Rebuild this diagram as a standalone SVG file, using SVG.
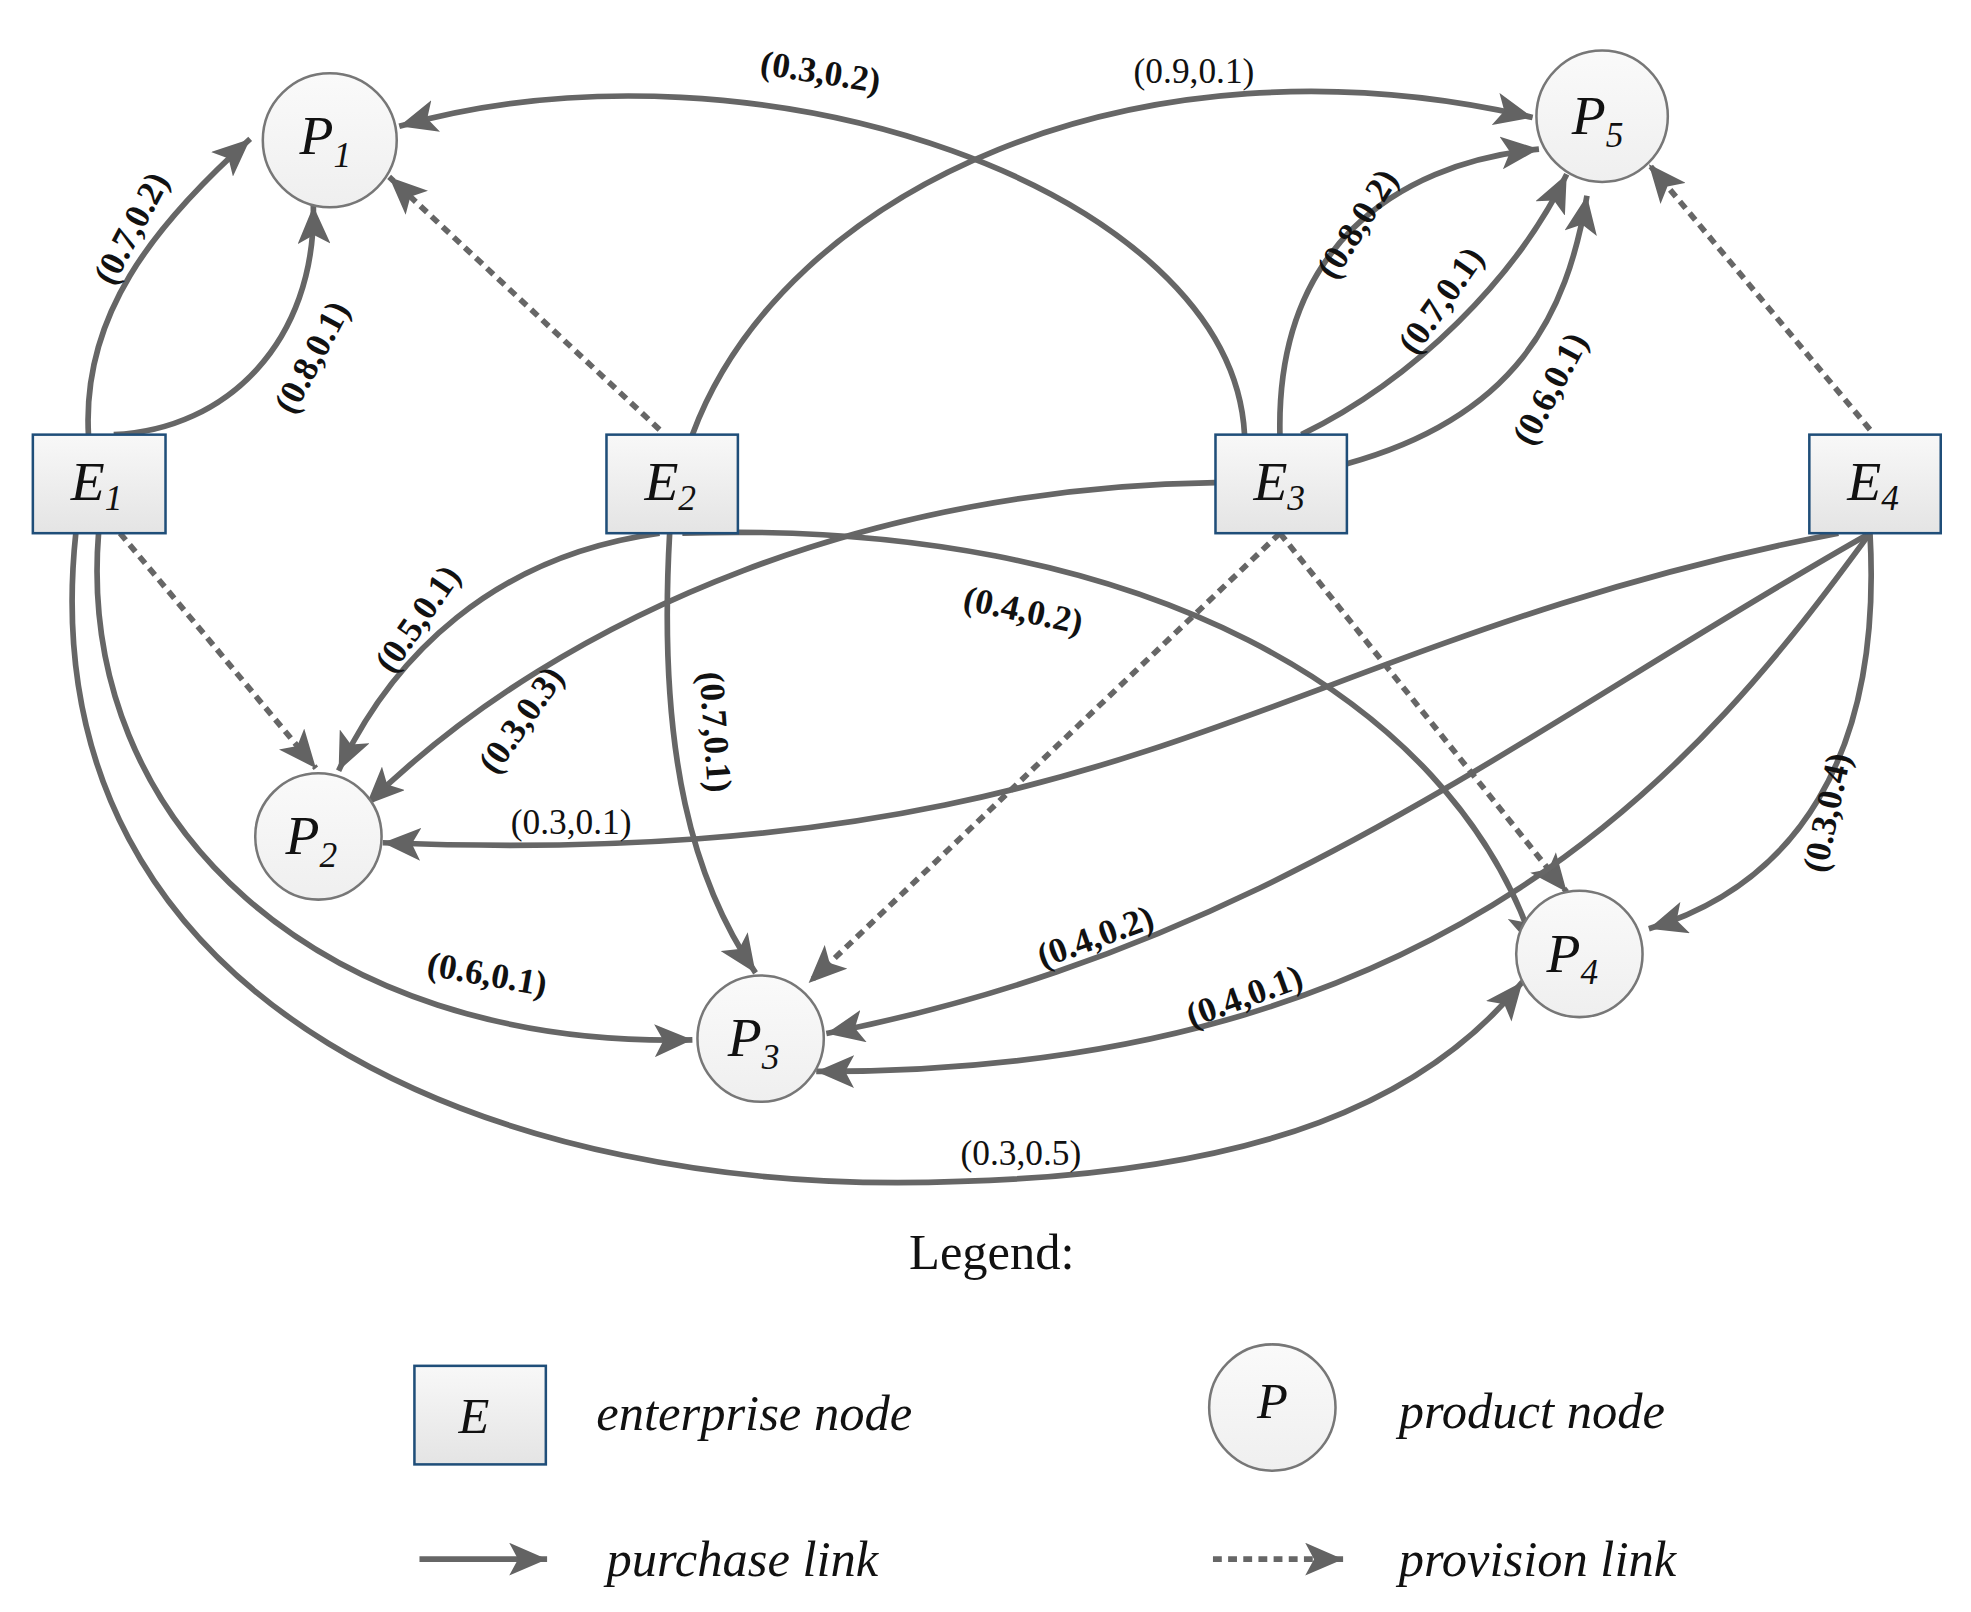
<svg xmlns="http://www.w3.org/2000/svg" width="1971" height="1612" viewBox="0 0 1971 1612">
<defs>
<linearGradient id="gr" x1="0" y1="0" x2="0" y2="1"><stop offset="0" stop-color="#f8f8f8"/><stop offset="1" stop-color="#e4e4e4"/></linearGradient>
<linearGradient id="gc" x1="0" y1="0" x2="0" y2="1"><stop offset="0" stop-color="#fafafa"/><stop offset="1" stop-color="#efefef"/></linearGradient>
<marker id="a" markerUnits="userSpaceOnUse" markerWidth="34" markerHeight="26" refX="30" refY="13" orient="auto"><path d="M0,0 L30,13 L0,26 L7,13 Z" fill="#636363"/></marker>
</defs>
<style>
.e{fill:url(#gr);stroke:#1f4e79;stroke-width:2}
.p{fill:url(#gc);stroke:#777;stroke-width:2}
.s{fill:none;stroke:#666;stroke-width:4.5;marker-end:url(#a)}
.d{fill:none;stroke:#666;stroke-width:4.5;stroke-dasharray:7,5;marker-end:url(#a)}
.n{font-family:"Liberation Serif",serif;font-style:italic;font-size:44px;fill:#111}
.sub{font-size:28px}
.l{font-family:"Liberation Serif",serif;font-size:28px;fill:#111}
.b{font-weight:bold}
.t{font-family:"Liberation Serif",serif;font-size:40px;fill:#111}
.i{font-style:italic}
</style>
<rect width="1971" height="1612" fill="#fff"/>
<g transform="scale(1.2635)">
<g id="connectors">
<path class="s" d="M70,344 C65,250 120,180 198,110"/>
<path class="s" d="M90,344 C180,340 250,270 248,163"/>
<path class="s" d="M985,344 C975,150 600,20 316,100"/>
<path class="d" d="M522,340 L308,140"/>
<path class="s" d="M548,344 C620,150 900,20 1213,93"/>
<path class="s" d="M1013,344 C1010,200 1100,130 1218,118"/>
<path class="s" d="M1030,344 C1120,300 1200,220 1240,138"/>
<path class="s" d="M1066,367 C1200,330 1240,250 1256,155"/>
<path class="d" d="M1480,340 L1305,130"/>
<path class="d" d="M95,422 L250,608"/>
<path class="s" d="M522,422 C390,440 310,520 268,610"/>
<path class="s" d="M962,382 C700,385 450,480 290,637"/>
<path class="s" d="M1455,422 C1000,510 900,690 303,667"/>
<path class="s" d="M530,422 C520,600 550,700 598,770"/>
<path class="s" d="M540,422 C900,410 1150,550 1215,752"/>
<path class="d" d="M1013,422 L640,778"/>
<path class="d" d="M1013,422 L1240,706"/>
<path class="s" d="M78,422 C60,650 250,830 548,823"/>
<path class="s" d="M60,422 C20,800 400,950 760,935 C1000,928 1130,870 1205,777"/>
<path class="s" d="M1480,422 C1200,580 1000,750 654,818"/>
<path class="s" d="M1480,422 C1350,600 1150,850 646,848"/>
<path class="s" d="M1480,422 C1490,600 1420,700 1305,735"/>
</g>
<g id="labels">
<text class="l b" transform="translate(112,185) rotate(-62)" text-anchor="middle">(0.7,0.2)</text>
<text class="l b" transform="translate(255,287) rotate(-62)" text-anchor="middle">(0.8,0.1)</text>
<text class="l b" transform="translate(648,66) rotate(9)" text-anchor="middle">(0.3,0.2)</text>
<text class="l" x="945" y="66" text-anchor="middle">(0.9,0.1)</text>
<text class="l b" transform="translate(1082,182) rotate(-58)" text-anchor="middle">(0.8,0.2)</text>
<text class="l b" transform="translate(1148,243) rotate(-55)" text-anchor="middle">(0.7,0.1)</text>
<text class="l b" transform="translate(1235,312) rotate(-62)" text-anchor="middle">(0.6,0.1)</text>
<text class="l b" transform="translate(338,495) rotate(-55)" text-anchor="middle">(0.5,0.1)</text>
<text class="l b" transform="translate(420,575) rotate(-55)" text-anchor="middle">(0.3,0.3)</text>
<text class="l" x="452" y="660" text-anchor="middle">(0.3,0.1)</text>
<text class="l b" transform="translate(557,580) rotate(86)" text-anchor="middle">(0.7,0.1)</text>
<text class="l b" transform="translate(808,492) rotate(12)" text-anchor="middle">(0.4,0.2)</text>
<text class="l b" transform="translate(384,780) rotate(10)" text-anchor="middle">(0.6,0.1)</text>
<text class="l" x="808" y="922" text-anchor="middle">(0.3,0.5)</text>
<text class="l b" transform="translate(870,750) rotate(-20)" text-anchor="middle">(0.4,0.2)</text>
<text class="l b" transform="translate(988,797) rotate(-20)" text-anchor="middle">(0.4,0.1)</text>
<text class="l b" transform="translate(1455,645) rotate(-78)" text-anchor="middle">(0.3,0.4)</text>
</g>
<g id="P1"><circle class="p" cx="261" cy="111" r="53"/><text class="n" x="237" y="122">P<tspan class="sub" dy="10">1</tspan></text></g>
<g id="P2"><circle class="p" cx="252" cy="662" r="50"/><text class="n" x="226" y="676">P<tspan class="sub" dy="10">2</tspan></text></g>
<g id="P3"><circle class="p" cx="602" cy="822" r="50"/><text class="n" x="576" y="836">P<tspan class="sub" dy="10">3</tspan></text></g>
<g id="P4"><circle class="p" cx="1250" cy="755" r="50"/><text class="n" x="1224" y="769">P<tspan class="sub" dy="10">4</tspan></text></g>
<g id="P5"><circle class="p" cx="1268" cy="92" r="52"/><text class="n" x="1244" y="106">P<tspan class="sub" dy="10">5</tspan></text></g>
<g id="E1"><rect class="e" x="26" y="344" width="105" height="78"/><text class="n" x="56" y="396">E<tspan class="sub" dy="8">1</tspan></text></g>
<g id="E2"><rect class="e" x="480" y="344" width="104" height="78"/><text class="n" x="510" y="396">E<tspan class="sub" dy="8">2</tspan></text></g>
<g id="E3"><rect class="e" x="962" y="344" width="104" height="78"/><text class="n" x="992" y="396">E<tspan class="sub" dy="8">3</tspan></text></g>
<g id="E4"><rect class="e" x="1432" y="344" width="104" height="78"/><text class="n" x="1462" y="396">E<tspan class="sub" dy="8">4</tspan></text></g>
<g id="legend">
<text class="t" x="785" y="1004" text-anchor="middle">Legend:</text>
<rect class="e" x="328" y="1081" width="104" height="78"/>
<text class="t i" x="375" y="1134" text-anchor="middle">E</text>
<text class="t i" x="472" y="1132">enterprise node</text>
<circle class="p" cx="1007" cy="1114" r="50"/>
<text class="t i" x="1007" y="1122" text-anchor="middle">P</text>
<text class="t i" x="1107" y="1130">product node</text>
<line class="s" x1="332" y1="1234" x2="433" y2="1234"/>
<text class="t i" x="480" y="1247">purchase link</text>
<line class="d" x1="960" y1="1234" x2="1063" y2="1234"/>
<text class="t i" x="1107" y="1247">provision link</text>
</g>
</g>
</svg>
